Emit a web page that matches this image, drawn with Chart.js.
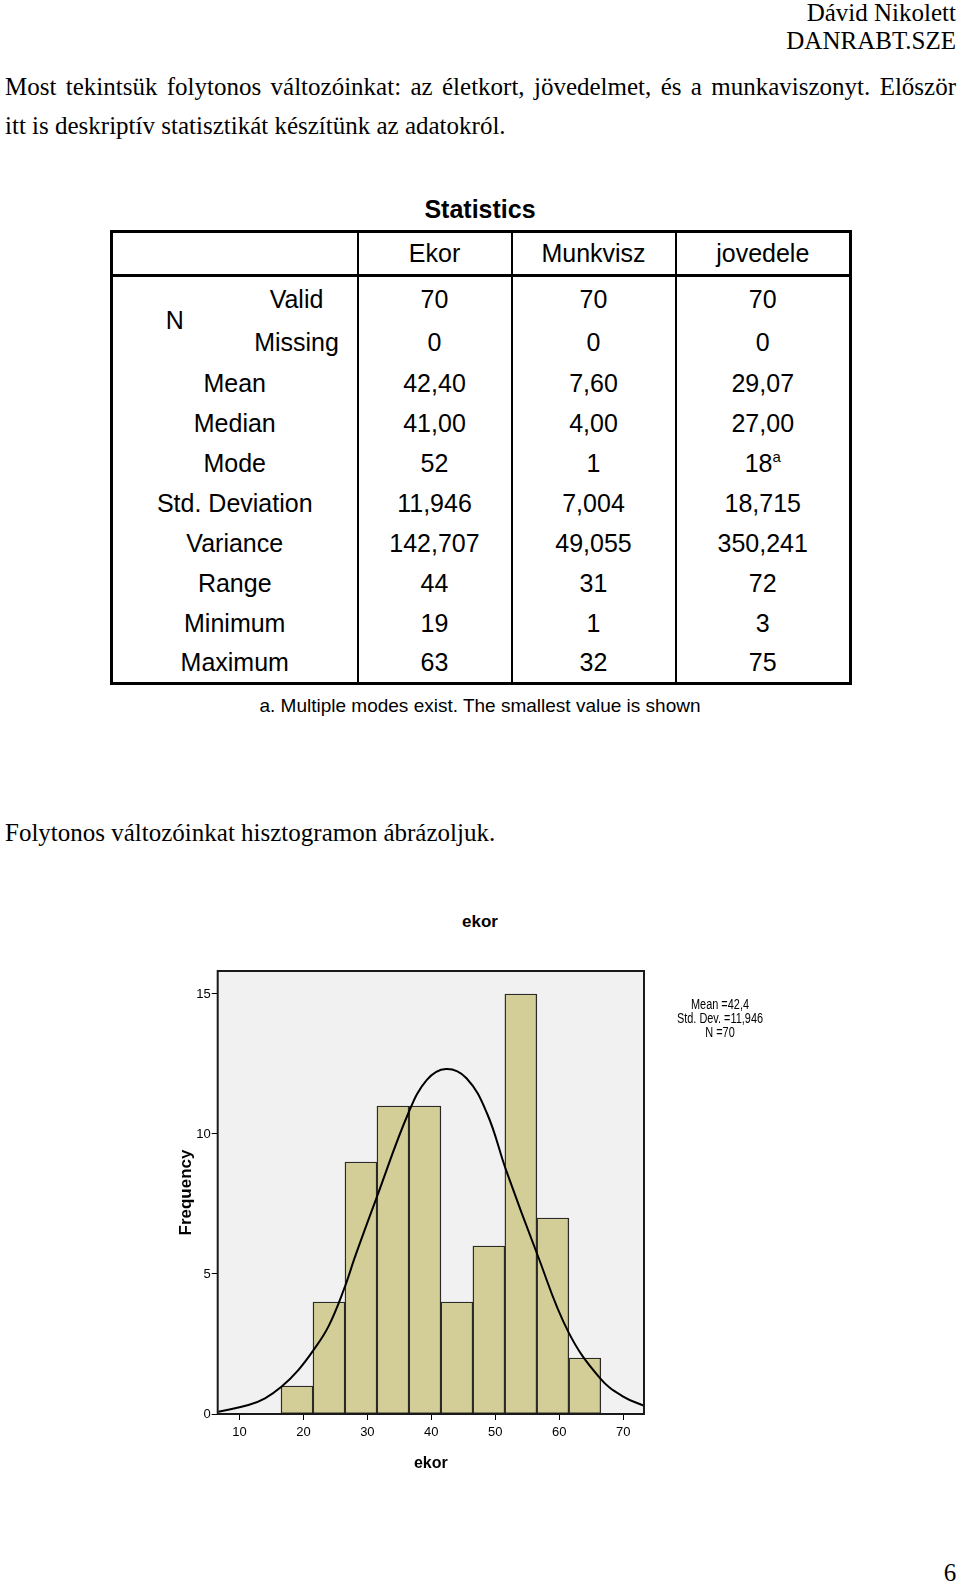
<!DOCTYPE html>
<html>
<head>
<meta charset="utf-8">
<script src="https://cdn.jsdelivr.net/npm/chart.js@4.4.1/dist/chart.umd.min.js"></script>
<style>
  body { margin: 0; width: 960px; height: 1585px; background: #fff; position: relative; overflow: hidden;
         font-family: "Liberation Serif", "Times New Roman", serif; color: #000; }
  .line { position: absolute; font-size: 25px; line-height: 30px; white-space: nowrap; }
  .sans { font-family: Arial, "Liberation Sans", sans-serif; }
  #stats { position: absolute; left: 110px; top: 230px; width: 739px; border-collapse: collapse;
           table-layout: fixed; font: 25px Arial, "Liberation Sans", sans-serif; border: 3.5px solid #000; }
  #stats td { padding: 0; text-align: center; vertical-align: middle; white-space: nowrap; }
  #stats td.v { border-left: 2.5px solid #000; }
  #stats tr.head td { border-bottom: 3.5px solid #000; }
  #stats sup { font-size: 15px; vertical-align: 10px; line-height: 0; }
  #chartBox { position: absolute; left: 150px; top: 880px; }
  .stat { position: absolute; left: 620px; width: 200px; text-align: center; font: 14px Arial, "Liberation Sans", sans-serif;
          line-height: 14px; transform: scaleX(0.78); }
</style>
</head>
<body>
<div class="line" style="right:4px; top:-2px;">Dávid Nikolett</div>
<div class="line" style="right:4px; top:26px;">DANRABT.SZE</div>
<div class="line" style="left:5px; top:72px; width:951px; text-align:justify; text-align-last:justify; white-space:normal;">Most tekintsük folytonos változóinkat: az életkort, jövedelmet, és a munkaviszonyt. Először</div>
<div class="line" style="left:5px; top:111px;">itt is deskriptív statisztikát készítünk az adatokról.</div>

<div class="line sans" style="left:380px; width:200px; text-align:center; top:194px; font-weight:bold;">Statistics</div>
<table id="stats">
  <colgroup><col style="width:125px"><col style="width:121px"><col style="width:154px"><col style="width:164px"><col style="width:175px"></colgroup>
  <tbody id="statsBody"></tbody>
</table>
<div class="line sans" style="left:180px; width:600px; text-align:center; top:691px; font-size:19px;">a. Multiple modes exist. The smallest value is shown</div>

<div class="line" style="left:5px; top:818px;">Folytonos változóinkat hisztogramon ábrázoljuk.</div>

<div class="line sans" style="left:380px; width:200px; text-align:center; top:907px; font-size:17px; font-weight:bold;">ekor</div>
<div id="chartBox"><canvas id="hist" width="660" height="610" style="width:660px;height:610px;"></canvas></div>
<div class="stat" style="top:997px;">Mean =42,4</div>
<div class="stat" style="top:1011px;">Std. Dev. =11,946</div>
<div class="stat" style="top:1025px;">N =70</div>

<div class="line" style="left:940px; width:20px; text-align:center; top:1558px;">6</div>

<script>
// statistics table
const statColumns = ["Ekor", "Munkvisz", "jovedele"];
const nValid = ["70", "70", "70"];
const nMissing = ["0", "0", "0"];
const statLabels = ["Mean", "Median", "Mode", "Std. Deviation", "Variance", "Range", "Minimum", "Maximum"];
const ekorStats = ["42,40", "41,00", "52", "11,946", "142,707", "44", "19", "63"];
const munkviszStats = ["7,60", "4,00", "1", "7,004", "49,055", "31", "1", "32"];
const jovedeleStats = ["29,07", "27,00", "18<sup>a</sup>", "18,715", "350,241", "72", "3", "75"];

// histogram of ekor
const binCenters = [19, 24, 29, 34, 39, 44, 49, 54, 59, 64];
const frequencies = [1, 4, 9, 11, 11, 4, 6, 15, 7, 2];
const curveX = [6.7, 11.4, 14.0, 16.6, 19.2, 21.6, 23.9, 26.3, 28.2, 31.5, 36.4, 39.3, 42.3, 45.5, 48.7, 51.7, 56.5, 61.4, 66.4, 70.0, 73.3];
const curveY = [0.08, 0.32, 0.56, 0.98, 1.57, 2.29, 3.12, 4.43, 5.70, 7.76, 10.74, 11.93, 12.32, 11.99, 10.74, 8.70, 5.74, 2.94, 1.27, 0.62, 0.29];
const xTicks = [10, 20, 30, 40, 50, 60, 70];
const yTicks = [0, 5, 10, 15];

const rowHeights = [46, 42, 40, 40, 40, 40, 40, 40, 40, 40];
let html = '<tr class="head" style="height:44px"><td colspan="2"></td>' +
  statColumns.map(c => '<td class="v">' + c + '</td>').join("") + "</tr>";
html += '<tr style="height:' + rowHeights[0] + 'px"><td rowspan="2">N</td><td>Valid</td>' +
  nValid.map(v => '<td class="v">' + v + '</td>').join("") + "</tr>";
html += '<tr style="height:' + rowHeights[1] + 'px"><td>Missing</td>' +
  nMissing.map(v => '<td class="v">' + v + '</td>').join("") + "</tr>";
statLabels.forEach((lab, i) => {
  html += '<tr style="height:' + rowHeights[i + 2] + 'px"><td colspan="2">' + lab + '</td>' +
    [ekorStats[i], munkviszStats[i], jovedeleStats[i]].map(v => '<td class="v">' + v + '</td>').join("") + "</tr>";
});
document.getElementById("statsBody").innerHTML = html;

Chart.defaults.font.family = 'Arial, "Liberation Sans", sans-serif';
Chart.defaults.color = "#000";

const plotFrame = {
  id: "plotFrame",
  beforeDatasetsDraw(chart) {
    const { ctx, chartArea: a } = chart;
    ctx.save();
    ctx.fillStyle = "#f1f1f1";
    ctx.fillRect(a.left, a.top, a.width, a.height);
    ctx.restore();
  },
  afterDatasetsDraw(chart) {
    const { ctx, chartArea: a } = chart;
    ctx.save();
    ctx.strokeStyle = "#1a1a1a";
    ctx.lineWidth = 2;
    ctx.strokeRect(a.left, a.top, a.width, a.height);
    ctx.restore();
  }
};

new Chart(document.getElementById("hist"), {
  type: "bar",
  data: {
    datasets: [
      {
        type: "line",
        data: curveX.map((x, i) => ({ x: x, y: curveY[i] })),
        borderColor: "#000",
        borderWidth: 2,
        pointRadius: 0,
        tension: 0.4,
        fill: false,
        order: 0
      },
      {
        type: "bar",
        data: binCenters.map((x, i) => ({ x: x, y: frequencies[i] })),
        backgroundColor: "#d3ce97",
        borderColor: "#2a2a26",
        borderWidth: 1.4,
        borderSkipped: false,
        barPercentage: 1,
        categoryPercentage: 1,
        order: 1
      }
    ]
  },
  options: {
    responsive: false,
    animation: false,
    layout: { padding: { left: 20, top: 91, right: 166, bottom: 0 } },
    plugins: { legend: { display: false }, tooltip: { enabled: false } },
    scales: {
      x: {
        type: "linear",
        min: 6.6,
        max: 73.25,
        offset: false,
        afterBuildTicks: s => { s.ticks = xTicks.map(v => ({ value: v })); },
        afterFit: s => { s.height = 76; },
        ticks: { font: { size: 13 }, color: "#000", padding: 5, maxRotation: 0, autoSkip: false },
        grid: { drawOnChartArea: false, drawTicks: true, tickLength: 6, color: "#000", offset: false },
        border: { display: false },
        title: { display: true, text: "ekor", color: "#000", font: { size: 16, weight: "bold" }, padding: { top: 0, bottom: 17 } }
      },
      y: {
        min: 0,
        max: 15.82,
        afterBuildTicks: s => { s.ticks = yTicks.map(v => ({ value: v })); },
        afterFit: s => { s.width = 47.7; },
        ticks: { font: { size: 13 }, color: "#000", padding: 1 },
        grid: { drawOnChartArea: false, drawTicks: true, tickLength: 6, color: "#000" },
        border: { display: false },
        title: { display: true, text: "Frequency", color: "#000", font: { size: 17, weight: "bold" }, padding: { top: 6.5, bottom: 0 } }
      }
    }
  },
  plugins: [plotFrame]
});
</script>
</body>
</html>
